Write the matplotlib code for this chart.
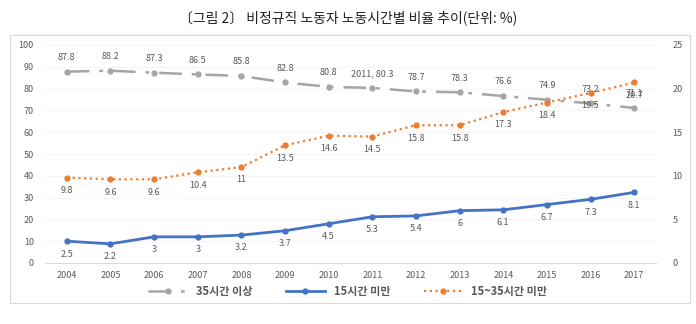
import matplotlib.pyplot as plt
from matplotlib.lines import Line2D
from matplotlib.patches import Rectangle

plt.rcParams['font.family'] = ['Noto Sans CJK KR', 'DejaVu Sans']

# data
years = ['2004', '2005', '2006', '2007', '2008', '2009', '2010',
         '2011', '2012', '2013', '2014', '2015', '2016', '2017']
over35 = [87.8, 88.2, 87.3, 86.5, 85.8, 82.8, 80.8, 80.3, 78.7, 78.3, 76.6, 74.9, 73.2, 71.1]
under15 = [2.5, 2.2, 3, 3, 3.2, 3.7, 4.5, 5.3, 5.4, 6, 6.1, 6.7, 7.3, 8.1]
mid15_35 = [9.8, 9.6, 9.6, 10.4, 11, 13.5, 14.6, 14.5, 15.8, 15.8, 17.3, 18.4, 19.5, 20.7]
over35_labels = ['87.8', '88.2', '87.3', '86.5', '85.8', '82.8', '80.8', '2011, 80.3',
                 '78.7', '78.3', '76.6', '74.9', '73.2', '71.1']
under15_labels = ['2.5', '2.2', '3', '3', '3.2', '3.7', '4.5', '5.3', '5.4', '6', '6.1',
                  '6.7', '7.3', '8.1']
mid_labels = ['9.8', '9.6', '9.6', '10.4', '11', '13.5', '14.6', '14.5', '15.8', '15.8',
              '17.3', '18.4', '19.5', '20.7']

gray = '#a5a5a5'
blue = '#4472c4'
orange = '#ed7d31'
txt = '#595959'

fig = plt.figure(figsize=(6.96, 3.24), dpi=100)
fig.patches.append(Rectangle((10 / 696, 1 - 303 / 324), 680 / 696, 268 / 324,
                             transform=fig.transFigure, fill=False,
                             edgecolor='#d9d9d9', linewidth=0.8))
fig.text(0.5, 1 - 18 / 324, '〔그림 2〕 비정규직 노동자 노동시간별 비율 추이(단위: %)',
         ha='center', va='center', fontsize=10, color='#222222')

ax = fig.add_axes([45 / 696, 1 - 263 / 324, 611 / 696, 218 / 324])
ax2 = ax.twinx()
x = list(range(len(years)))

ax.plot(x, over35, color=gray, lw=1.8, marker='o', ms=3.5,
        dashes=(9, 4, 1.5, 4), zorder=3)
ax2.plot(x, under15, color=blue, lw=2, marker='o', ms=3.5, zorder=3)
ax2.plot(x, mid15_35, color=orange, lw=1.6, marker='o', ms=3.5,
         linestyle=(0, (1, 1.6)), zorder=3)

for i in x:
    ax.annotate(over35_labels[i], (i, over35[i]), xytext=(0, 7), textcoords='offset points',
                ha='center', va='bottom', fontsize=6.5, color=txt)
    ax2.annotate(under15_labels[i], (i, under15[i]), xytext=(0, -6), textcoords='offset points',
                 ha='center', va='top', fontsize=6.5, color=txt)
    ax2.annotate(mid_labels[i], (i, mid15_35[i]), xytext=(0, -6), textcoords='offset points',
                 ha='center', va='top', fontsize=6.5, color=txt)

ax.set_xlim(-0.5, len(years) - 0.5)
ax.set_ylim(0, 100)
ax2.set_ylim(0, 25)
ax.set_yticks(range(0, 101, 10))
ax2.set_yticks(range(0, 26, 5))
ax.set_xticks(x)
ax.set_xticklabels(years)
ax.grid(axis='y', color='#f2f2f2', lw=0.6)
ax.set_axisbelow(True)

for a in (ax, ax2):
    for s in a.spines.values():
        s.set_visible(False)
    a.tick_params(length=0, labelsize=6.5, labelcolor=txt)
ax.spines['bottom'].set_visible(True)
ax.spines['bottom'].set_color('#d9d9d9')
ax.tick_params(axis='y', pad=8)
ax2.tick_params(axis='y', pad=12)
ax.tick_params(axis='x', pad=6)

handles = [Line2D([], [], color=gray, lw=1.8, marker='o', ms=3.5, dashes=(9, 4, 1.5, 4)),
           Line2D([], [], color=blue, lw=2, marker='o', ms=3.5),
           Line2D([], [], color=orange, lw=1.6, marker='o', ms=3.5, linestyle=(0, (1, 1.6)))]
fig.legend(handles, ['35시간 이상', '15시간 미만', '15~35시간 미만'],
           loc='center', bbox_to_anchor=(0.5, 1 - 291 / 324), ncol=3, frameon=False,
           prop={'size': 8, 'weight': 'bold'}, labelcolor=txt, handlelength=3.5,
           columnspacing=3)

fig.savefig('out.png', dpi=100)
